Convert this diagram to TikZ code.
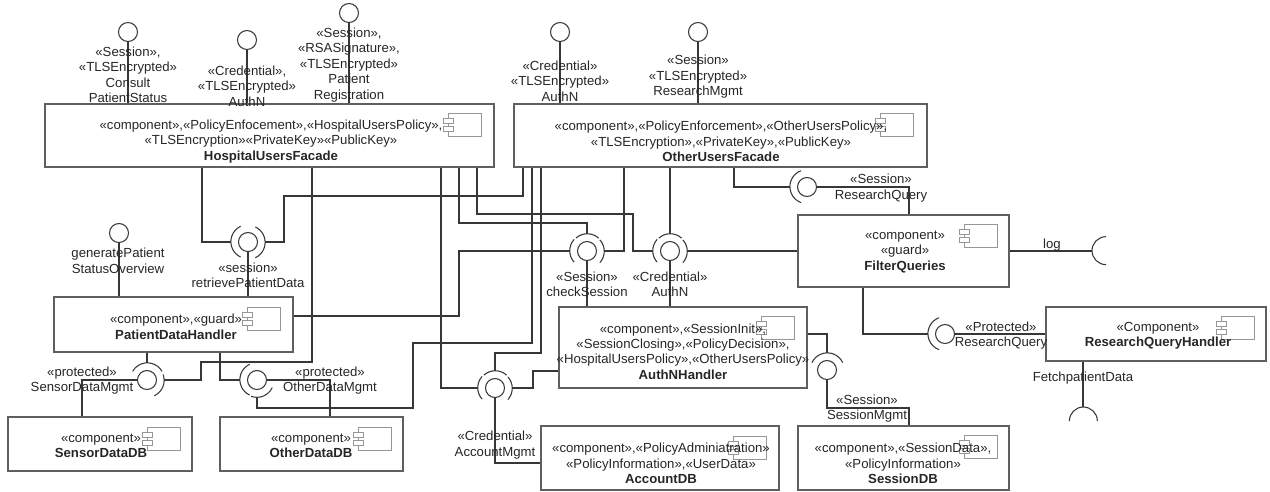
\documentclass[tikz,border=0pt]{standalone}
\usepackage{fontspec}
\setmainfont{Liberation Sans}
\usetikzlibrary{fit}
\definecolor{edgegray}{RGB}{55,55,55}
\definecolor{boxgray}{RGB}{95,95,95}
\definecolor{icongray}{RGB}{150,150,150}
\newcommand{\sockarc}[3]{\draw[conn] (#1.#2) arc[start angle=#2, end angle=#3, radius=0.34cm];}
\tikzset{compicon/.pic={
  \draw[icon] (0,0) rectangle (33,23);
  \draw[icon,fill=white] (-5,5) rectangle (5,10) (-5,13) rectangle (5,18);}}
\begin{document}
\begin{tikzpicture}[x=0.02cm,y=-0.02cm,
  comp/.style={draw=boxgray,line width=0.6pt,inner sep=0},
  txt/.style={font=\fontsize{7.5}{8.8}\selectfont,align=center,inner sep=0,text=black!85},
  conn/.style={draw=edgegray,line width=0.6pt},
  ball/.style={circle,draw=edgegray,line width=0.6pt,minimum size=0.38cm,inner sep=0},
  sock/.style={circle,minimum size=0.68cm,inner sep=0},
  icon/.style={draw=icongray,line width=0.5pt}]
\useasboundingbox (0,0) rectangle (1270,491);

% components
\node[comp,fit={(45,104) (494,167)}] (huf) {};
\node[comp,fit={(514,104) (927,167)}] (ouf) {};
\node[comp,fit={(798,215) (1009,287)}] (fq) {};
\node[comp,fit={(1046,307) (1266,361)}] (rqh) {};
\node[comp,fit={(798,426) (1009,490)}] (sdb) {};
\node[comp,fit={(541,426) (779,490)}] (adb) {};
\node[comp,fit={(559,307) (807,388)}] (anh) {};
\node[comp,fit={(54,297) (293,352)}] (pdh) {};
\node[comp,fit={(8,417) (192,471)}] (sendb) {};
\node[comp,fit={(220,417) (403,471)}] (odb) {};

\pic at (448,113) {compicon};
\pic at (880,113) {compicon};
\pic at (964,224) {compicon};
\pic at (1221,316) {compicon};
\pic at (964,435) {compicon};
\pic at (733,436) {compicon};
\pic at (761,316) {compicon};
\pic at (247,307) {compicon};
\pic at (147,427) {compicon};
\pic at (358,427) {compicon};

\node[txt] (huf-t) at (271,141.5) {«component»,«PolicyEnfocement»,«HospitalUsersPolicy»,\\«TLSEncryption»«PrivateKey»«PublicKey»\\\textbf{HospitalUsersFacade}};
\node[txt] (ouf-t) at (721,141.5) {«component»,«PolicyEnforcement»,«OtherUsersPolicy»,\\«TLSEncryption»,«PrivateKey»,«PublicKey»\\\textbf{OtherUsersFacade}};
\node[txt] (fq-t) at (905,252) {«component»\\«guard»\\\textbf{FilterQueries}};
\node[txt] (rqh-t) at (1158,335.5) {«Component»\\\textbf{ResearchQueryHandler}};
\node[txt] (sdb-t) at (903,463.5) {«component»,«SessionData»,\\«PolicyInformation»\\\textbf{SessionDB}};
\node[txt] (adb-t) at (661,463.5) {«component»,«PolicyAdminiatration»\\«PolicyInformation»,«UserData»\\\textbf{AccountDB}};
\node[txt] (anh-t) at (683,351.5) {«component»,«SessionInit»,\\«SessionClosing»,«PolicyDecision»,\\«HospitalUsersPolicy»,«OtherUsersPolicy»\\\textbf{AuthNHandler}};
\node[txt] (pdh-t) at (176,327) {«component»,«guard»\\\textbf{PatientDataHandler}};
\node[txt] (sendb-t) at (101,446) {«component»\\\textbf{SensorDataDB}};
\node[txt] (odb-t) at (311,446) {«component»\\\textbf{OtherDataDB}};

% provided interfaces on top
\node[ball] (i-cps) at (128,32) {};
\node[ball] (i-hauth) at (247,40) {};
\node[ball] (i-preg) at (349,13) {};
\node[ball] (i-oauth) at (560,32) {};
\node[ball] (i-rm) at (698,32) {};
\node[ball] (i-gps) at (119,233) {};
\draw[conn] (i-cps.south) -- (i-cps.south |- huf.north);
\draw[conn] (i-hauth.south) -- (i-hauth.south |- huf.north);
\draw[conn] (i-preg.south) -- (i-preg.south |- huf.north);
\draw[conn] (i-oauth.south) -- (i-oauth.south |- ouf.north);
\draw[conn] (i-rm.south) -- (i-rm.south |- ouf.north);
\draw[conn] (i-gps.south) -- (i-gps.south |- pdh.north);

\node[txt] (l-cps) at (128,75) {«Session»,\\«TLSEncrypted»\\Consult\\PatientStatus};
\node[txt] (l-hauth) at (247,86) {«Credential»,\\«TLSEncrypted»\\AuthN};
\node[txt] (l-preg) at (349,65) {«Session»,\\«RSASignature»,\\«TLSEncrypted»\\Patient\\Registration};
\node[txt] (l-oauth) at (560,81) {«Credential»\\«TLSEncrypted»\\AuthN};
\node[txt] (l-rm) at (698,77) {«Session»\\«TLSEncrypted»\\ResearchMgmt};
\node[txt] (l-gps) at (118,261) {generatePatient\\StatusOverview};

% assemblies: ball + socket
\node[ball] (b-rpd) at (248,242) {}; \node[sock] (sk-rpd) at (248,242) {};
\node[ball] (b-cs) at (587,251) {};  \node[sock] (sk-cs) at (587,251) {};
\node[ball] (b-an) at (670,251) {};  \node[sock] (sk-an) at (670,251) {};
\node[ball] (b-am) at (495,388) {};  \node[sock] (sk-am) at (495,388) {};
\node[ball] (b-sm) at (147,380) {};  \node[sock] (sk-sm) at (147,380) {};
\node[ball] (b-om) at (257,380) {};  \node[sock] (sk-om) at (257,380) {};
\node[ball] (b-rqs) at (807,187) {}; \node[sock] (sk-rqs) at (807,187) {};
\node[ball] (b-rqp) at (945,334) {}; \node[sock] (sk-rqp) at (945,334) {};
\node[ball] (b-smg) at (827,370) {}; \node[sock] (sk-smg) at (827,370) {};
\node[circle,minimum size=0.56cm,inner sep=0] (sk-log) at (1106,251) {};
\node[circle,minimum size=0.56cm,inner sep=0] (sk-fetch) at (1083,421) {};

\sockarc{sk-rpd}{115}{245} \sockarc{sk-rpd}{-65}{65}
\sockarc{sk-cs}{138}{222} \sockarc{sk-cs}{48}{132} \sockarc{sk-cs}{-42}{42}
\sockarc{sk-an}{138}{222} \sockarc{sk-an}{48}{132} \sockarc{sk-an}{-42}{42}
\sockarc{sk-am}{138}{222} \sockarc{sk-am}{48}{132} \sockarc{sk-am}{-42}{42}
\sockarc{sk-sm}{30}{150} \sockarc{sk-sm}{-65}{20}
\sockarc{sk-om}{115}{245} \sockarc{sk-om}{250}{335}
\sockarc{sk-rqs}{110}{250}
\sockarc{sk-rqp}{110}{250}
\sockarc{sk-smg}{25}{155}
\draw[conn] (sk-log.north) arc[start angle=90, end angle=270, radius=0.28cm];
\draw[conn] (sk-fetch.east) arc[start angle=0, end angle=180, radius=0.28cm];

% retrievePatientData
\draw[conn] (202,0 |- huf.south) |- (sk-rpd.west);
\draw[conn] (523,0 |- ouf.south) |- (284,196) |- (sk-rpd.east);
\draw[conn] (b-rpd.south) -- (b-rpd.south |- pdh.north);
% checkSession
\draw[conn] (pdh.east |- 0,316) -| (459,251) -- (sk-cs.west);
\draw[conn] (459,0 |- huf.south) |- (sk-cs.north |- 0,223) -- (sk-cs.north);
\draw[conn] (624,0 |- ouf.south) |- (sk-cs.east);
\draw[conn] (b-cs.south) -- (b-cs.south |- anh.north);
% AuthN
\draw[conn] (477,0 |- huf.south) |- (633,214) |- (sk-an.west);
\draw[conn] (sk-an.north |- ouf.south) -- (sk-an.north);
\draw[conn] (fq.west) -- (sk-an.east);
\draw[conn] (b-an.south) -- (b-an.south |- anh.north);
% AccountMgmt
\draw[conn] (441,0 |- huf.south) |- (sk-am.west);
\draw[conn] (541,0 |- ouf.south) |- (sk-am.north |- 0,353) -- (sk-am.north);
\draw[conn] (anh.west |- 0,371) -| (sk-am.east -| 533,0) -- (sk-am.east);
\draw[conn] (b-am.south) |- (adb.west |- 0,463);
% SensorDataMgmt
\draw[conn] (sk-sm.north |- pdh.south) -- (sk-sm.north);
\draw[conn] (312,0 |- huf.south) |- (201,362) |- (sk-sm.east);
\draw[conn] (b-sm.west) -| (82,0 |- sendb.north);
% OtherDataMgmt
\draw[conn] (220,0 |- pdh.south) |- (sk-om.west);
\draw[conn] (532,0 |- ouf.south) |- (413,343) |- (sk-om.south |- 0,408) -- (sk-om.south);
\draw[conn] (b-om.east) -| (330,0 |- odb.north);
% ResearchQuery
\draw[conn] (734,0 |- ouf.south) |- (sk-rqs.west);
\draw[conn] (b-rqs.east) -| (909,0 |- fq.north);
\draw[conn] (863,0 |- fq.south) |- (sk-rqp.west);
\draw[conn] (b-rqp.east) -- (rqh.west |- b-rqp.east);
% SessionMgmt
\draw[conn] (anh.east |- 0,334) -| (sk-smg.north);
\draw[conn] (b-smg.south) |- (909,408) -- (909,0 |- sdb.north);
% log, FetchpatientData
\draw[conn] (fq.east) -- (sk-log.west);
\draw[conn] (1083,0 |- rqh.south) -- (sk-fetch.north);

\node[txt] (l-rpd) at (248,275.5) {«session»\\retrievePatientData};
\node[txt] (l-cs) at (587,284.5) {«Session»\\checkSession};
\node[txt] (l-an) at (670,284.5) {«Credential»\\AuthN};
\node[txt] (l-am) at (495,445) {«Credential»\\AccountMgmt};
\node[txt] (l-sm) at (82,380.5) {«protected»\\SensorDataMgmt};
\node[txt] (l-om) at (330,380.5) {«protected»\\OtherDataMgmt};
\node[txt] (l-rqs) at (881,188) {«Session»\\ResearchQuery};
\node[txt] (l-rqp) at (1001,335.5) {«Protected»\\ResearchQuery};
\node[txt] (l-smg) at (867,408.5) {«Session»\\SessionMgmt};
\node[txt] (l-log) at (1052,245) {log};
\node[txt] (l-fetch) at (1083,378) {FetchpatientData};
\end{tikzpicture}
\end{document}
